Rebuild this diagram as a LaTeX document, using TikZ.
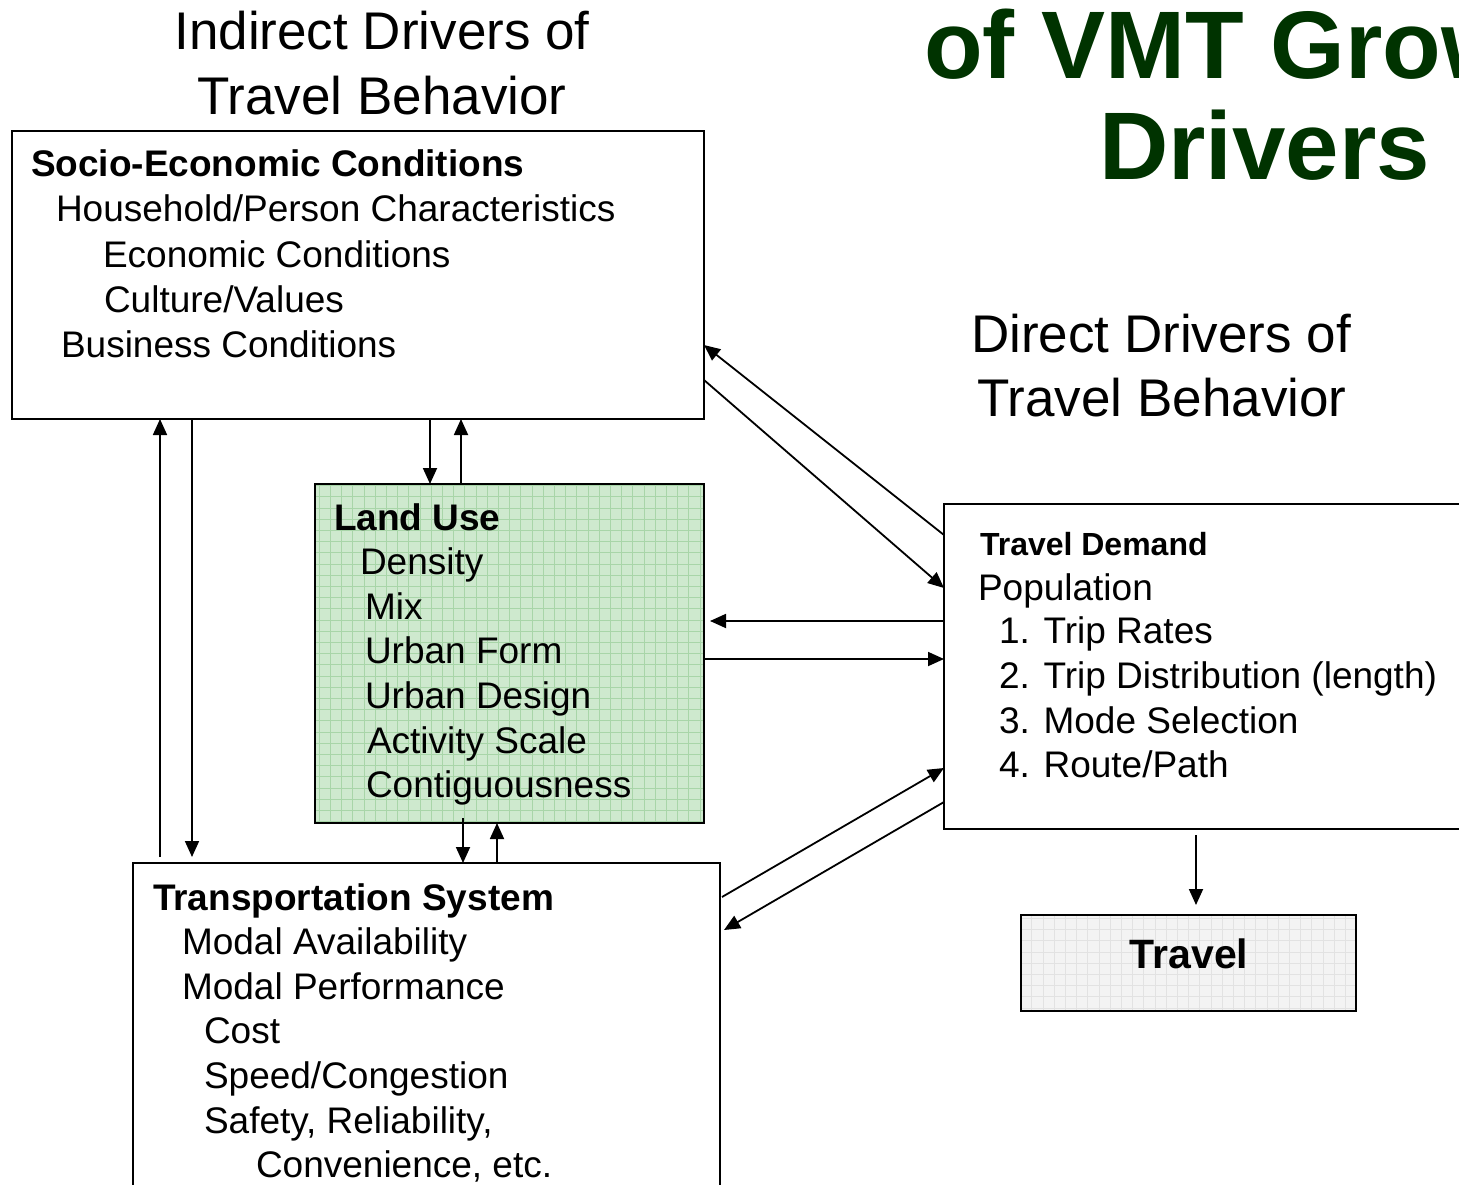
\documentclass[tikz,border=0pt]{standalone}
\usepackage{fontspec}
\setmainfont{Liberation Sans}
\usetikzlibrary{arrows.meta}
\definecolor{dgreen}{RGB}{0,51,0}
\definecolor{lufill}{RGB}{206,233,206}
\definecolor{lugrid}{RGB}{168,213,168}
\definecolor{trfill}{RGB}{243,243,243}
\definecolor{trgrid}{RGB}{226,226,226}
\begin{document}
\begin{tikzpicture}[x=1pt,y=-1pt,
  box/.style={draw=black, line width=1.6pt, inner sep=0pt, outer sep=0pt, anchor=north west},
  txt/.style={inner sep=0pt, outer sep=0pt, anchor=base west, font=\fontsize{37}{44}\selectfont},
  btxt/.style={txt, font=\fontsize{37}{44}\selectfont\bfseries},
  ttl/.style={inner sep=0pt, outer sep=0pt, anchor=base, font=\fontsize{53}{64}\selectfont},
  gttl/.style={inner sep=0pt, outer sep=0pt, anchor=base west, text=dgreen, font=\fontsize{96}{100}\selectfont\bfseries},
  arr/.style={line width=1.8pt, -{Triangle[length=16pt,width=14pt]}},
]
\path[use as bounding box, clip] (0,0) rectangle (1459,1185);
\fill[white] (0,0) rectangle (1459,1185);

% titles
\node[ttl] (t1a) at (382,50) {Indirect Drivers of};
\node[ttl] (t1b) at (382,115) {Travel Behavior};
\node[ttl] (t2a) at (1161,352) {Direct Drivers of};
\node[ttl] (t2b) at (1162,416) {Travel Behavior};
\node[gttl] (g1) at (924,79) {of VMT Growth};
\node[gttl] (g2) at (1099,180) {Drivers};

% boxes
\node[box, minimum width=692, minimum height=288] (socio) at (12,131) {};
\node[box, fill=lufill, minimum width=389, minimum height=339,
  path picture={\draw[lugrid, line width=0.6pt, step=11.2pt] (path picture bounding box.south west) grid (path picture bounding box.north east);}] (lu) at (315,484) {};
\node[box, minimum width=530, minimum height=325] (td) at (944,504) {};
\node[box, fill=trfill, minimum width=335, minimum height=96,
  path picture={\draw[trgrid, line width=0.5pt, step=11.2pt] (path picture bounding box.south west) grid (path picture bounding box.north east);}] (travel) at (1021,915) {};
\node[box, minimum width=587, minimum height=340] (trans) at (133,863) {};

% socio text
\node[btxt] (s0) at (31,177) {Socio-Economic Conditions};
\node[txt] (s1) at (56,222) {Household/Person Characteristics};
\node[txt] (s2) at (103,267) {Economic Conditions};
\node[txt] (s3) at (104,312) {Culture/Values};
\node[txt] (s4) at (61,357) {Business Conditions};

% land use text
\node[btxt] (l0) at (334,530) {Land Use};
\node[txt] (l1) at (360,574) {Density};
\node[txt] (l2) at (365,619) {Mix};
\node[txt] (l3) at (365,663) {Urban Form};
\node[txt] (l4) at (365,708) {Urban Design};
\node[txt] (l5) at (367,753) {Activity Scale};
\node[txt] (l6) at (366,797) {Contiguousness};

% transportation text
\node[btxt] (r0) at (153,910) {Transportation System};
\node[txt] (r1) at (182,954) {Modal Availability};
\node[txt] (r2) at (182,999) {Modal Performance};
\node[txt] (r3) at (204,1043) {Cost};
\node[txt] (r4) at (204,1088) {Speed/Congestion};
\node[txt] (r5) at (204,1133) {Safety, Reliability,};
\node[txt] (r6) at (256,1177) {Convenience, etc.};

% travel demand text
\node[txt, font=\fontsize{32}{38}\selectfont\bfseries] (d0) at (980,555) {Travel Demand};
\node[txt] (d1) at (978,600) {Population};
\node[txt] (d2) at (999,643) {1. Trip Rates};
\node[txt] (d3) at (999,688) {2. Trip Distribution (length)};
\node[txt] (d4) at (999,733) {3. Mode Selection};
\node[txt] (d5) at (999,777) {4. Route/Path};

% travel text
\node[inner sep=0pt, anchor=base, font=\fontsize{41}{48}\selectfont\bfseries] (tv) at (1189,968) {Travel};

% arrows socio <-> travel demand
\draw[arr] ([yshift=-31pt]td.north west) -- ([yshift=-214pt]socio.north east);
\draw[arr] ([yshift=-249pt]socio.north east) -- ([yshift=-84pt]td.north west);
% socio <-> land use
\draw[arr] ([xshift=418pt]socio.south west) -- ([xshift=115pt]lu.north west);
\draw[arr] ([xshift=146pt]lu.north west) -- ([xshift=449pt]socio.south west);
% socio <-> transportation
\draw[arr] ([xshift=27pt,yshift=6pt]trans.north west) -- ([xshift=148pt]socio.south west);
\draw[arr] ([xshift=180pt]socio.south west) -- ([xshift=59pt,yshift=6pt]trans.north west);
% land use <-> travel demand
\draw[arr] ([yshift=-117pt]td.north west) -- ([xshift=6pt,yshift=-137pt]lu.north east);
\draw[arr] ([yshift=-175pt]lu.north east) -- ([yshift=-155pt]td.north west);
% land use <-> transportation
\draw[arr] ([xshift=148pt,yshift=5pt]lu.south west) -- ([xshift=330pt]trans.north west);
\draw[arr] ([xshift=364pt]trans.north west) -- ([xshift=182pt]lu.south west);
% transportation <-> travel demand
\draw[arr] ([xshift=2pt,yshift=-34pt]trans.north east) -- ([yshift=-264pt]td.north west);
\draw[arr] ([yshift=-298pt]td.north west) -- ([xshift=4pt,yshift=-67pt]trans.north east);
% travel demand -> travel
\draw[arr] ([xshift=252pt,yshift=-6pt]td.south west) -- ([xshift=175pt,yshift=10pt]travel.north west);
\end{tikzpicture}
\end{document}
